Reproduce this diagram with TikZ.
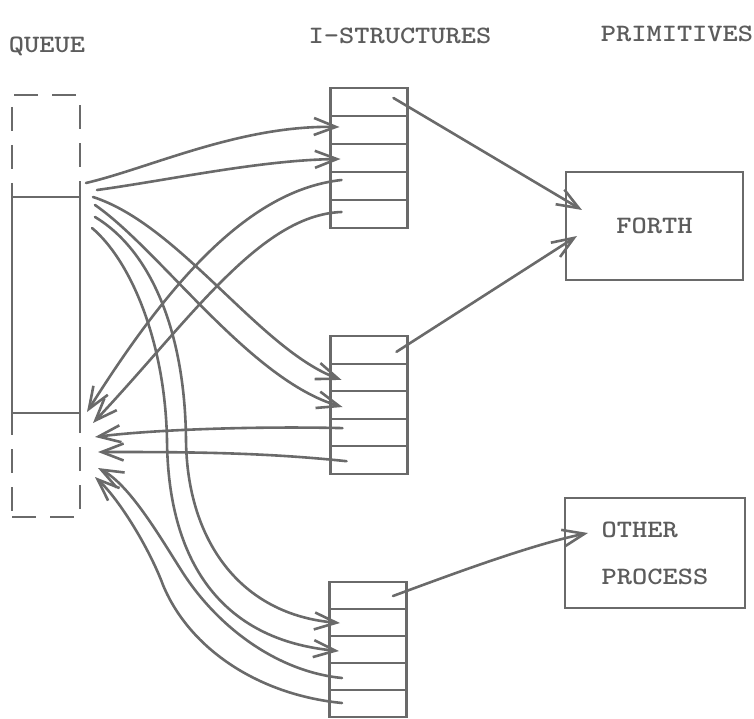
\documentclass[tikz,border=0pt]{standalone}
\usetikzlibrary{arrows.meta,calc}
\definecolor{ink}{HTML}{6A6A6A}
\definecolor{txt}{HTML}{5C5C5C}
\newcommand{\twx}[1]{\scalebox{1.16}[1]{#1}}
\begin{document}
\begin{tikzpicture}[x=1pt,y=-1pt,
  every node/.style={inner sep=0pt, outer sep=0pt},
  line/.style={draw=ink, line width=2.6pt, line cap=round},
  conn/.style={line, -{Straight Barb[length=22pt,width=17pt]}},
  cell/.style={draw=ink, line width=2.1pt, minimum width=77pt},
  lbl/.style={text=txt, font=\ttfamily\bfseries\fontsize{25}{30}\selectfont},
  box/.style={draw=ink, line width=2.1pt}
]
\useasboundingbox (0,0) rectangle (754,719);

% titles
\node[lbl] (lq) at (47,46) {\twx{QUEUE}};
\node[lbl] (li) at (400,36) {\twx{I-STRUCTURES}};
\node[lbl] (lp) at (677,34) {\twx{PRIMITIVES}};

% queue
\node[draw=ink, line width=1.8pt, dash pattern=on 24pt off 14pt, minimum width=68pt, minimum height=422pt] (queue) at (46,306) {};
\node[draw=ink, line width=1.8pt, fill=white, minimum width=68pt, minimum height=216pt] (qbuf) at (46,305) {};

% I-structures
\foreach \i in {1,...,5} {
  \node[cell, minimum height=28pt] (t\i) at (369,{88+28*(\i-0.5)}) {};
  \node[cell, minimum height=27.6pt] (m\i) at (369,{336+27.6*(\i-0.5)}) {};
  \node[cell, minimum height=27pt] (b\i) at (368,{582+27*(\i-0.5)}) {};
}

% primitives
\node[box, lbl, minimum width=177pt, minimum height=108pt] (forth) at (654.5,226) {\twx{FORTH}};
\node[box, text=txt, font=\ttfamily\bfseries\fontsize{25}{47}\selectfont, align=left, minimum width=180pt, minimum height=110pt] (other) at (655,553) {\twx{OTHER}\\\twx{PROCESS}};

% endpoints at the queue
\coordinate (qa) at (86,183);
\coordinate (qb) at (97,190);
\coordinate (qc) at (93,197);
\coordinate (qd) at (95,205);
\coordinate (qe) at (95,217);
\coordinate (qf) at (92,228);
\coordinate (qr1) at (87,412);
\coordinate (qr2) at (93,423);
\coordinate (qr3) at (95,437);
\coordinate (qr4) at (98,452);
\coordinate (qr5) at (98,468);
\coordinate (qr6) at (95,477);

% endpoints in the cells (offsets in picture units, y downwards)
\coordinate (t2in) at ($(t2.west)+(9,-3)$);
\coordinate (t3in) at ($(t3.west)+(10,1)$);
\coordinate (t4out) at ($(t4.west)+(11,-6)$);
\coordinate (t5out) at ($(t5.west)+(11,-2)$);
\coordinate (t1out) at ($(t1.east)+(-14,-4)$);
\coordinate (m2in) at ($(m2.west)+(11,2.5)$);
\coordinate (m3in) at ($(m3.west)+(12,2)$);
\coordinate (m4out) at ($(m4.west)+(12,-4.5)$);
\coordinate (m5out) at ($(m5.west)+(16,1)$);
\coordinate (m1out) at ($(m1.east)+(-11,2)$);
\coordinate (b2in) at ($(b2.west)+(10.5,0.5)$);
\coordinate (b3in) at ($(b3.west)+(9.5,1.5)$);
\coordinate (b4out) at ($(b4.west)+(12.5,1.5)$);
\coordinate (b5out) at ($(b5.west)+(12.5,-0.5)$);
\coordinate (b1out) at ($(b1.east)+(-13.5,0.5)$);
\coordinate (f1) at ($(forth.west)+(16,-16)$);
\coordinate (f2) at ($(forth.west)+(11,10)$);
\coordinate (o1) at ($(other.west)+(23,-20)$);

% queue -> I-structures
\draw[conn] (qa) .. controls (150,168) and (240,125) .. (t2in);
\draw[conn] (qb) .. controls (170,180) and (260,160) .. (t3in);
\draw[conn] (qc) .. controls (180,225) and (260,350) .. (m2in);
\draw[conn] (qd) .. controls (160,250) and (250,380) .. (m3in);
\draw[conn] (qe) .. controls (150,250) and (185,330) .. (186,440) .. controls (187,540) and (240,615) .. (b2in);
\draw[conn] (qf) .. controls (130,260) and (165,340) .. (167,440) .. controls (168,560) and (220,640) .. (b3in);

% I-structures -> queue
\draw[conn] (t4out) .. controls (250,190) and (170,280) .. (qr1);
\draw[conn] (t5out) .. controls (260,215) and (190,320) .. (qr2);
\draw[conn] (m4out) .. controls (250,426) and (150,430) .. (qr3);
\draw[conn] (m5out) .. controls (260,452) and (180,452) .. (qr4);
\draw[conn] (b4out) .. controls (280,672) and (220,630) .. (183,573) .. controls (160,537) and (130,485) .. (qr5);
\draw[conn] (b5out) .. controls (260,695) and (190,650) .. (163,585) .. controls (150,550) and (120,500) .. (qr6);

% I-structures -> primitives
\draw[conn] (t1out) -- (f1);
\draw[conn] (m1out) -- (f2);
\draw[conn] (b1out) .. controls (450,575) and (530,545) .. (o1);
\end{tikzpicture}
\end{document}
